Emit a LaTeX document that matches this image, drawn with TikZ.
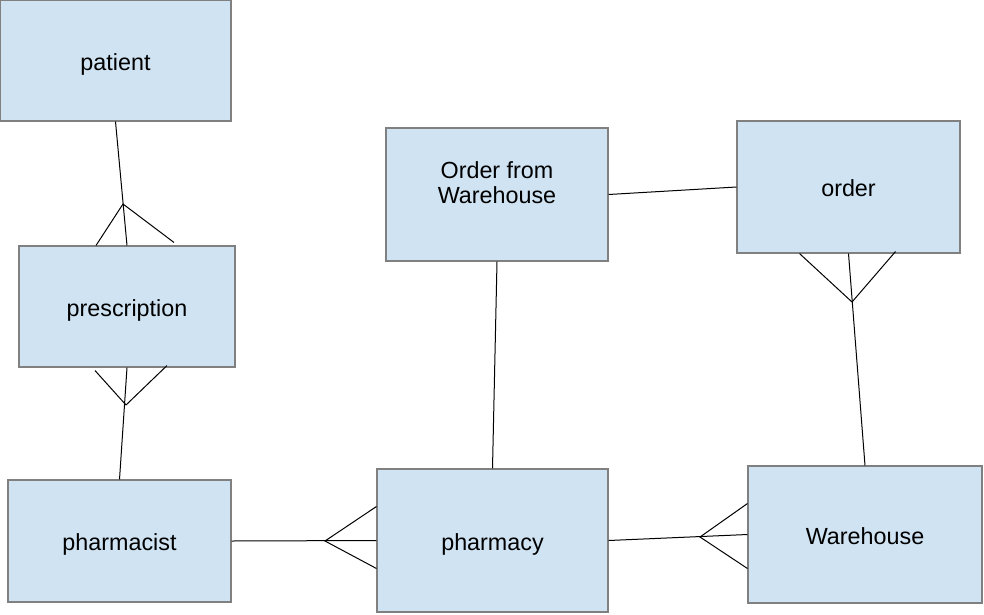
\documentclass[tikz,border=0pt]{standalone}
\usepackage{fontspec}
\setmainfont{Liberation Sans}
\usetikzlibrary{calc}
\definecolor{boxfill}{HTML}{CFE3F2}
\definecolor{boxline}{HTML}{808080}
\begin{document}
\begin{tikzpicture}[x=0.75pt,y=-0.75pt,
  ent/.style={draw=boxline,fill=boxfill,line width=0.8pt,inner sep=0pt,
    font=\fontsize{17.5}{18.75}\selectfont,align=center,
    text height=17.5pt,text depth=2.8pt},
  rel/.style={draw=black,line width=0.75pt}]
\useasboundingbox (0,0) rectangle (984,614);
\fill[white] (0,0) rectangle (984,614);
\node[ent,minimum width=231*0.75pt,minimum height=121*0.75pt] (patient) at (115.5,60.5) {patient};
\node[ent,minimum width=216*0.75pt,minimum height=121*0.75pt] (prescription) at (127,306.5) {prescription};
\node[ent,minimum width=223*0.75pt,minimum height=122*0.75pt] (pharmacist) at (119.5,541) {pharmacist};
\node[ent,minimum width=222*0.75pt,minimum height=133*0.75pt,text height=33pt,text depth=20.25pt] (ofw) at (497,194.5) {Order from\\Warehouse};
\node[ent,minimum width=223*0.75pt,minimum height=132*0.75pt] (order) at (848.5,187) {order};
\node[ent,minimum width=231*0.75pt,minimum height=143*0.75pt] (pharmacy) at (492.5,540.5) {pharmacy};
\node[ent,minimum width=234*0.75pt,minimum height=137*0.75pt] (warehouse) at (865,534.5) {Warehouse};
% connectors
\draw[rel] (patient.south) -- (prescription.north);
\draw[rel] (prescription.south) -- (pharmacist.north);
\draw[rel] (ofw.east) -- (order.west);
\draw[rel] (ofw.south) -- (pharmacy.north);
\draw[rel] (order.south) -- (warehouse.north);
\draw[rel] (pharmacist.east) -- (pharmacy.west);
\draw[rel] (pharmacy.east) -- (warehouse.west);
% crow's feet
\coordinate (a1) at (123,204);
\draw[rel] ($(prescription.north)+(-31,0)$) -- (a1) -- ($(prescription.north)+(47,-3)$);
\coordinate (a2) at (126,405);
\draw[rel] ($(prescription.south)+(-32,3)$) -- (a2) -- ($(prescription.south)+(40,-2)$);
\coordinate (a3) at (852,302);
\draw[rel] ($(order.south)+(-49,0)$) -- (a3) -- ($(order.south)+(47,-2)$);
\coordinate (a4) at (325,541);
\draw[rel] ($(pharmacy.west)+(0,-34)$) -- (a4) -- ($(pharmacy.west)+(0,28)$);
\coordinate (a5) at (700,537);
\draw[rel] ($(warehouse.west)+(0,-31)$) -- (a5) -- ($(warehouse.west)+(0,34)$);
\end{tikzpicture}
\end{document}
